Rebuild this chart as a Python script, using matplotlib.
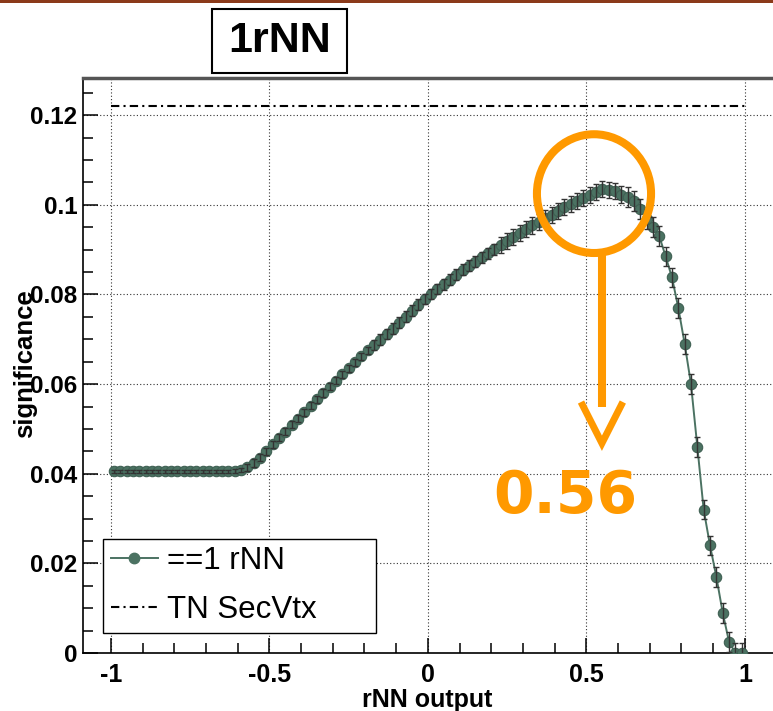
import numpy as np
import matplotlib
matplotlib.use('Agg')
import matplotlib.pyplot as plt
from matplotlib.ticker import MultipleLocator, FuncFormatter
from matplotlib.patches import Ellipse, Rectangle
from matplotlib.lines import Line2D

plt.rcParams['font.family'] = ['Liberation Sans', 'DejaVu Sans']
plt.rcParams['axes.unicode_minus'] = False

# data
title = '1rNN'
xlabel = 'rNN output'
ylabel = 'significance'
label_rnn = '==1 rNN'
label_secvtx = 'TN SecVtx'
peak_label = '0.56'

# bin centres of the rNN output histogram
rnn_x = np.round(np.arange(-0.99, 1.0, 0.02), 2)
# significance per bin
rnn_sig = [0.0405] * 19 + [
    0.0406, 0.0408, 0.0414, 0.0424, 0.0436, 0.0450, 0.0466, 0.0480, 0.0494, 0.0509,
    0.0523, 0.0537, 0.0552, 0.0566, 0.0580, 0.0594, 0.0608, 0.0622, 0.0635, 0.0649,
    0.0662, 0.0675, 0.0687, 0.0699, 0.0712, 0.0724, 0.0737, 0.0750, 0.0764, 0.0777,
    0.0790,
    0.0801, 0.0812, 0.0823, 0.0833, 0.0844, 0.0855, 0.0864, 0.0873, 0.0883, 0.0892,
    0.0901, 0.0910, 0.0919, 0.0928, 0.0937, 0.0946, 0.0954, 0.0962, 0.0970, 0.0978,
    0.0987, 0.0995, 0.1002, 0.1009, 0.1015, 0.1021, 0.1028, 0.1035, 0.1034, 0.1030,
    0.1023, 0.1017, 0.1008, 0.0990, 0.0968, 0.0950, 0.0930, 0.0885, 0.0838, 0.0770,
    0.0690, 0.0600, 0.0460, 0.0320, 0.0240, 0.0170, 0.0090, 0.0025, 0.0, 0.0]
rnn_err = [0.0004] * 21 + [0.0008] * 20 + [0.0012] * 20 + [0.0018] * 20 + [0.0022] * 19
secvtx_sig = 0.122
secvtx_range = (-1.0, 1.0)

green = '#4b7262'
orange = '#ff9900'

fig = plt.figure(figsize=(7.73, 7.11), dpi=100)
ax = fig.add_axes([83/773, 58/711, 692/773, 575/711])

ax.set_xlim(-1.088, 1.095)
ax.set_ylim(0, 0.1283)

ax.grid(True, which='major', color='#333333', linestyle=(0, (1, 2)), linewidth=0.8)
ax.set_axisbelow(True)

ax.errorbar(rnn_x, rnn_sig, yerr=rnn_err, fmt='none', ecolor='#333333',
            elinewidth=1.0, capsize=2.2, capthick=1.0, zorder=4)
ax.plot(rnn_x, rnn_sig, '-o', color=green, lw=1.4, ms=7.5, mec='#3f6053', mew=0.8,
        zorder=3, label=label_rnn)
ax.hlines(secvtx_sig, secvtx_range[0], secvtx_range[1], colors='black',
          linestyles=(0, (4, 2, 1, 2)), linewidth=1.5, zorder=3)

# ticks ROOT style
ax.xaxis.set_major_locator(MultipleLocator(0.5))
ax.xaxis.set_minor_locator(MultipleLocator(0.1))
ax.yaxis.set_major_locator(MultipleLocator(0.02))
ax.yaxis.set_minor_locator(MultipleLocator(0.005))
fmt = FuncFormatter(lambda v, p: '%g' % round(v, 3))
ax.xaxis.set_major_formatter(fmt)
ax.yaxis.set_major_formatter(fmt)
ax.tick_params(which='both', direction='in', top=False, right=False, width=1.1)
ax.tick_params(which='major', length=11)
ax.tick_params(which='minor', length=7)
ax.tick_params(axis='x', which='major', pad=7, labelsize=18)
ax.tick_params(axis='y', which='major', pad=4, labelsize=17.5)
for t in ax.get_xticklabels() + ax.get_yticklabels():
    t.set_fontweight('bold')
for s in ax.spines.values():
    s.set_linewidth(1.2)
ax.spines['top'].set_linewidth(2.5)
ax.spines['top'].set_color('#555555')

ax.set_xlabel(xlabel, fontsize=18, fontweight='bold')
ax.xaxis.set_label_coords(0.497, -0.06)
ax.set_ylabel(ylabel, fontsize=18.5, fontweight='bold')
ax.yaxis.set_label_coords(-0.066, 0.504)

handles = [Line2D([], [], color=green, marker='o', ms=7.5, lw=1.4),
           Line2D([], [], color='black', lw=1.5, linestyle=(0, (4, 2, 1, 2)))]
leg = ax.legend(handles, [label_rnn, label_secvtx], loc='lower left',
                bbox_to_anchor=(0.029, 0.035, 0.394, 0.179), mode='expand',
                borderaxespad=0, fontsize=22.5, handlelength=1.5,
                handletextpad=0.3, borderpad=0.25, labelspacing=0.6,
                fancybox=False, framealpha=1, edgecolor='black')
leg.get_frame().set_linewidth(1.0)

# orange annotation
ax.add_patch(Ellipse((0.524, 0.1025), 0.36, 0.0265, fill=False,
                     edgecolor=orange, lw=5.8, zorder=6))
ax.plot([0.549, 0.549], [0.0892, 0.0549], color=orange, lw=5.8,
        solid_capstyle='butt', zorder=6)
ax.plot([0.483, 0.549, 0.615], [0.056, 0.0468, 0.056], color=orange, lw=5.0,
        solid_capstyle='butt', solid_joinstyle='miter', zorder=6)
ax.text(0.435, 0.0349, peak_label, color=orange, fontsize=42, fontweight='bold',
        family='DejaVu Sans', ha='center', va='center', zorder=6)

# title box
fig.add_artist(Rectangle((212/773, 1 - 73/711), 135/773, 64/711,
                         transform=fig.transFigure, facecolor='white',
                         edgecolor='black', lw=1.5))
fig.text(279.5/773, 1 - 41/711, title, fontsize=31, fontweight='bold',
         ha='center', va='center')

# brown line on the top edge
fig.add_artist(Rectangle((0, 1 - 2.5/711), 1, 2.5/711, transform=fig.transFigure,
                         facecolor='#8b3a1a', edgecolor='none'))

fig.savefig('out.png', dpi=100)
